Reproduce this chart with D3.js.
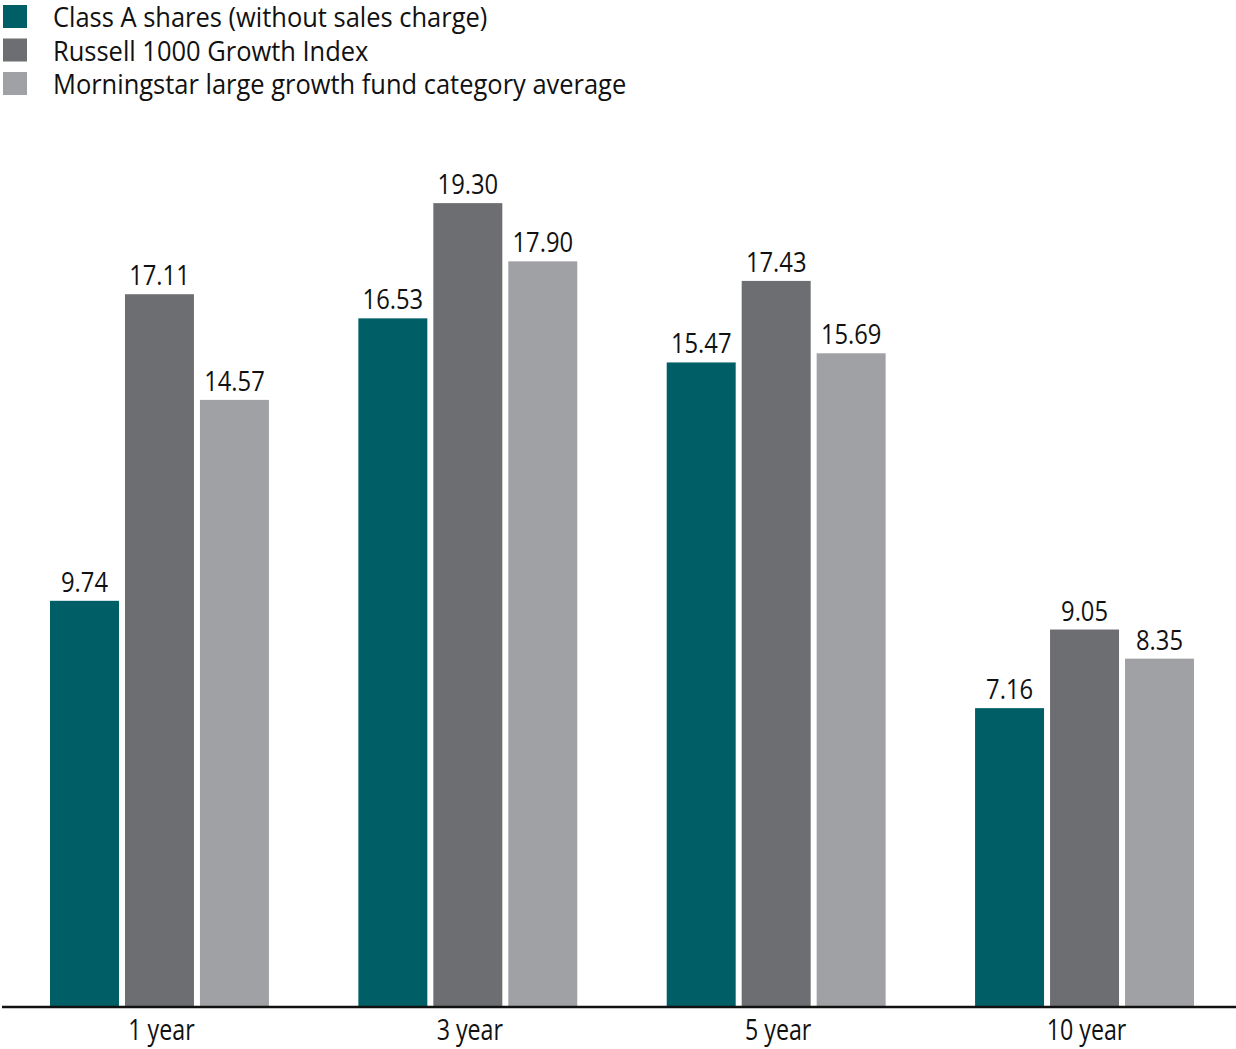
<!DOCTYPE html>
<html><head><meta charset="utf-8">
<script src="https://cdn.jsdelivr.net/npm/d3@7"></script>
<style>body{margin:0;background:#fff}svg{display:block}</style>
</head><body>
<script>
const categories = ["1 year", "3 year", "5 year", "10 year"];
const seriesNames = ["Class A shares (without sales charge)", "Russell 1000 Growth Index", "Morningstar large growth fund category average"];
const classA = [9.74, 16.53, 15.47, 7.16];
const russell = [17.11, 19.30, 17.43, 9.05];
const morningstar = [14.57, 17.90, 15.69, 8.35];
const colors = ["#005f66", "#6d6e71", "#a0a1a4"];
const seriesValues = [classA, russell, morningstar];

const W = 1236, H = 1049;
const FONT = "'Open Sans', 'Noto Sans', sans-serif";
const svg = d3.select("body").append("svg").attr("width", W).attr("height", H);

const x0 = d3.scaleBand().domain(categories).range([50, 1194]).paddingInner(0.29).paddingOuter(0);
const x1 = d3.scaleBand().domain(d3.range(3)).range([0, x0.bandwidth()]).paddingInner(0.08).paddingOuter(0);
const y = d3.scaleLinear().domain([0, 20]).range([1006, 174]);

const groups = svg.append("g").selectAll("g").data(categories).join("g")
  .attr("transform", d => `translate(${x0(d)},0)`);

groups.each(function(cat, ci) {
  const g = d3.select(this);
  seriesValues.forEach((vals, si) => {
    const v = vals[ci];
    g.append("rect").attr("x", x1(si)).attr("y", y(v)).attr("width", x1.bandwidth())
      .attr("height", y(0) - y(v)).attr("fill", colors[si]);
    const cx = x1(si) + x1.bandwidth() / 2;
    g.append("text").attr("transform", `translate(${cx},${y(v) - 9}) scale(0.88,1)`)
      .attr("text-anchor", "middle").attr("font-family", FONT).attr("font-size", 27)
      .attr("fill", "#111").text(v.toFixed(2));
  });
});

// axis
const axis = d3.axisBottom(x0).tickSize(0).tickPadding(0);
const ax = svg.append("g").attr("transform", `translate(0,${y(0)})`).call(axis);
ax.select(".domain").remove();
ax.selectAll(".tick text").remove();
ax.selectAll(".tick").append("text")
  .attr("transform", `translate(2,34) scale(0.8,1)`)
  .attr("text-anchor", "middle").attr("font-family", FONT).attr("font-size", 29)
  .attr("fill", "#111").text(d => d);
svg.append("line").attr("x1", 2).attr("x2", W).attr("y1", y(0) + 1).attr("y2", y(0) + 1)
  .attr("stroke", "#111").attr("stroke-width", 2.5);

// legend
const leg = svg.append("g");
seriesNames.forEach((name, i) => {
  const yy = 5 + i * 33.5;
  leg.append("rect").attr("x", 3).attr("y", yy).attr("width", 24).attr("height", 23).attr("fill", colors[i]);
  leg.append("text").attr("transform", `translate(53,${yy + 22}) scale(0.91,1)`)
    .attr("font-family", FONT).attr("font-size", 28).attr("fill", "#111").text(name);
});
</script>
</body></html>
